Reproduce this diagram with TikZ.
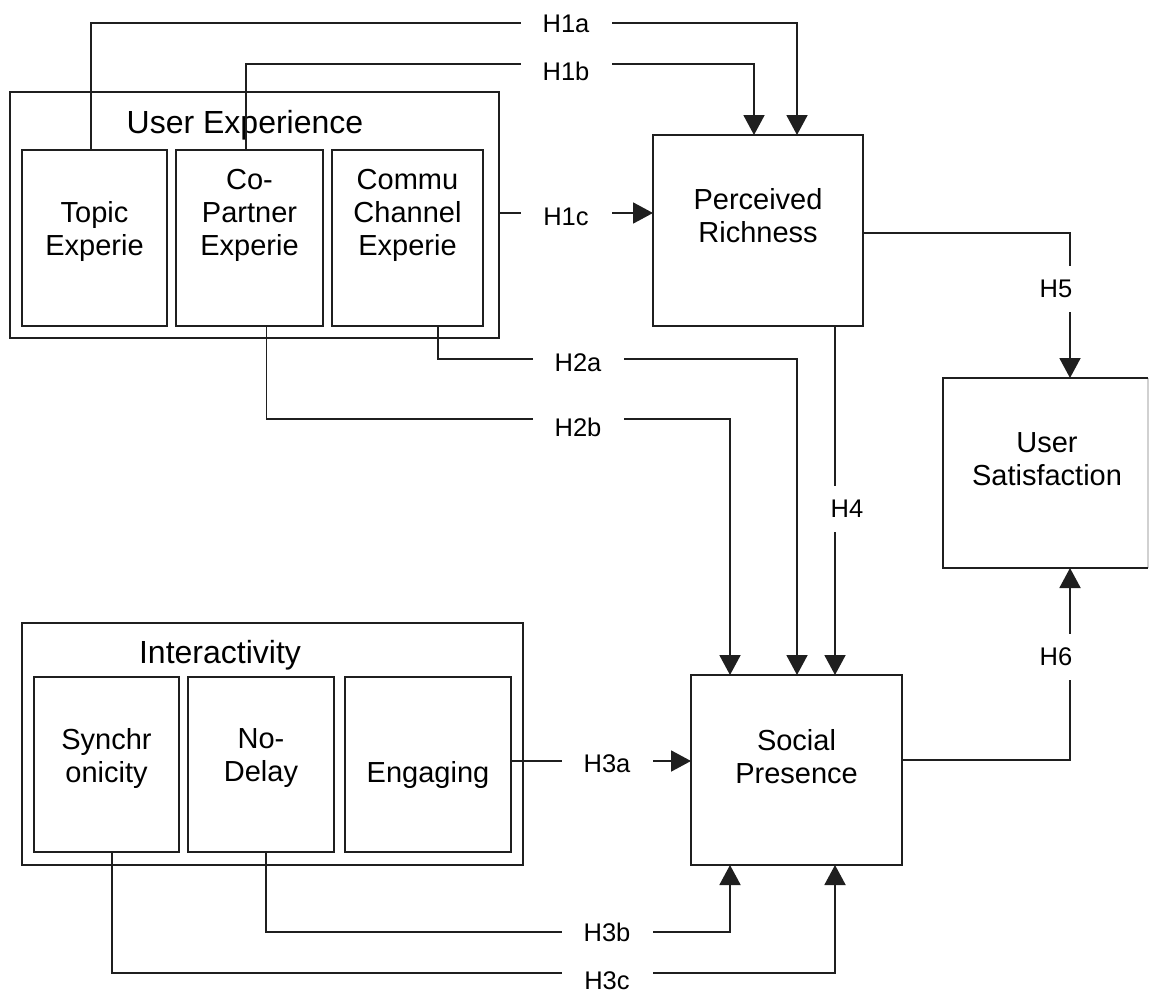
\documentclass[tikz,border=0pt]{standalone}
\usepackage{fontspec}
\setmainfont{Liberation Sans}
\usetikzlibrary{arrows.meta}
\begin{document}
\begin{tikzpicture}[x=1pt,y=-1pt,
  box/.style={draw=black!88, line width=1.9pt, inner sep=0pt, outer sep=0pt},
  boxtxt/.style={align=center, inner sep=0pt, font=\fontsize{29}{33}\selectfont},
  titletxt/.style={inner sep=0pt, font=\fontsize{32}{36}\selectfont},
  conn/.style={draw=black!88, line width=1.9pt},
  arr/.style={conn, -{Triangle[length=20pt,width=21pt]}},
  hlab/.style={fill=white, inner sep=0pt, minimum width=91pt, minimum height=28pt, font=\fontsize{25.5}{30}\selectfont},
  vlab/.style={fill=white, inner sep=0pt, minimum width=34pt, minimum height=46pt, font=\fontsize{25.5}{30}\selectfont}]
\useasboundingbox (0,0) rectangle (1150,993);

% User Experience group
\node[box, minimum width=489pt, minimum height=246pt] (UE) at (254.5,215) {};
\node[titletxt] (UEt) at (245,125) {User Experience};
\node[box, minimum width=145pt, minimum height=176pt] (topic) at (94.5,238) {};
\node[box, minimum width=147pt, minimum height=176pt] (copart) at (249.5,238) {};
\node[box, minimum width=151pt, minimum height=176pt] (commu) at (407.5,238) {};
\node[boxtxt] (topict) at (94.5,231.5) {Topic\\Experie};
\node[boxtxt] (copartt) at (249.5,215) {Co-\\Partner\\Experie};
\node[boxtxt] (commut) at (407.5,215) {Commu\\Channel\\Experie};

% Perceived Richness
\node[box, minimum width=210pt, minimum height=191pt] (PR) at (758,230.5) {};
\node[boxtxt] (PRt) at (758,216) {Perceived\\Richness};

% User Satisfaction
\node[inner sep=0pt, outer sep=0pt, minimum width=205pt, minimum height=190pt] (US) at (1045.5,473) {};
\draw[black!18, line width=1.2pt] (US.north east) -- (US.south east);
\draw[conn] (US.north east) -- (US.north west) -- (US.south west) -- (US.south east);
\node[boxtxt] (USt) at (1047,459) {User\\Satisfaction};

% Interactivity group
\node[box, minimum width=501pt, minimum height=242pt] (INT) at (272.5,744) {};
\node[titletxt] (INTt) at (220,655) {Interactivity};
\node[box, minimum width=145pt, minimum height=175pt] (sync) at (106.5,764.5) {};
\node[box, minimum width=146pt, minimum height=175pt] (nodelay) at (261,764.5) {};
\node[box, minimum width=166pt, minimum height=175pt] (engaging) at (428,764.5) {};
\node[boxtxt] (synct) at (106.5,758) {Synchr\\onicity};
\node[boxtxt] (nodelayt) at (261,758) {No-\\Delay};
\node[boxtxt] (engagingt) at (428,775) {Engaging};

% Social Presence
\node[box, minimum width=211pt, minimum height=190pt] (SP) at (796.5,770) {};
\node[boxtxt] (SPt) at (796.5,756.5) {Social\\Presence};

% connectors
\draw[arr] ([xshift=-3.5pt]topic.north) |- (797,23) -- ([xshift=39pt]PR.north);
\draw[arr] ([xshift=-3.5pt]copart.north) |- (754,64) -- ([xshift=-4pt]PR.north);
\draw[arr] ([yshift=2pt]UE.east) -- ([yshift=17.5pt]PR.west);
\draw[arr] ([yshift=-2.5pt]PR.east) -| ([xshift=24.5pt]US.north);
\draw[arr] ([xshift=30.5pt]commu.south) |- (797,359) -- ([xshift=0.5pt]SP.north);
\draw[arr] ([xshift=17pt]copart.south) |- (730,419) -- ([xshift=-66.5pt]SP.north);
\draw[arr] ([xshift=77pt]PR.south) -- ([xshift=38.5pt]SP.north);
\draw[arr] ([yshift=10pt]SP.east) -| ([xshift=24.5pt]US.south);
\draw[arr] ([yshift=3.5pt]engaging.east) -- ([yshift=9pt]SP.west);
\draw[arr] ([xshift=5pt]nodelay.south) |- (730,932) -- ([xshift=-66.5pt]SP.south);
\draw[arr] ([xshift=5.5pt]sync.south) |- (835,973) -- ([xshift=38.5pt]SP.south);

% labels
\node[hlab] (H1a) at (566,24) {H1a};
\node[hlab] (H1b) at (566,71) {H1b};
\node[hlab] (H1c) at (566,217) {H1c};
\node[hlab] (H2a) at (578,363) {H2a};
\node[hlab] (H2b) at (578,427) {H2b};
\node[hlab] (H3a) at (607,764) {H3a};
\node[hlab] (H3b) at (607,932) {H3b};
\node[hlab] (H3c) at (607,981) {H3c};
\node[vlab] (H4) at (847,509) {H4};
\node[vlab] (H5) at (1056,289) {H5};
\node[vlab] (H6) at (1056,657) {H6};
\end{tikzpicture}
\end{document}
